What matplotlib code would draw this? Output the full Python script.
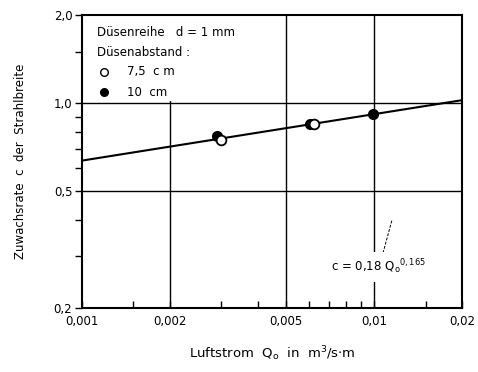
import matplotlib
matplotlib.use("Agg")
import matplotlib.pyplot as plt
from matplotlib.ticker import FixedLocator, NullFormatter
from matplotlib.patches import Rectangle

# Data
q_open = [0.00299, 0.00623]      # Düsenabstand 7,5 cm
c_open = [0.746, 0.847]
q_filled = [0.0029, 0.00604, 0.0099]   # Düsenabstand 10 cm
c_filled = [0.770, 0.847, 0.916]
fit_q = [0.001, 0.02]
fit_c = [0.637, 1.024]

x_major = [0.001, 0.002, 0.005, 0.01, 0.02]
x_major_labels = ["0,001", "0,002", "0,005", "0,01", "0,02"]
x_minor = [0.0015, 0.003, 0.004, 0.006, 0.007, 0.008, 0.009, 0.015]
y_major = [0.2, 0.5, 1.0, 2.0]
y_major_labels = ["0,2", "0,5", "1,0", "2,0"]
y_minor = [0.3, 0.4, 0.6, 0.7, 0.8, 0.9, 1.5]

plt.rcParams['font.family'] = ['DejaVu Sans']

fig = plt.figure(figsize=(4.78, 3.72), dpi=100)
ax = fig.add_axes([82/478, 64/372, 380/478, 293/372])
ax.set_xscale('log')
ax.set_yscale('log')
ax.set_xlim(0.001, 0.02)
ax.set_ylim(0.2, 2.0)

# grid lines
for xv in [0.002, 0.005, 0.01]:
    ax.axvline(xv, color='black', lw=1.0, zorder=1)
for yv in [0.5, 1.0]:
    ax.axhline(yv, color='black', lw=1.0, zorder=1)

# legend white area
ax.add_patch(Rectangle((0.0, 0.705), 0.44, 0.295, transform=ax.transAxes,
                       facecolor='white', edgecolor='none', zorder=2))

ax.plot(fit_q, fit_c, color='black', lw=1.5, zorder=3)
ax.plot(q_filled, c_filled, 'o', color='black', ms=7, zorder=4)
ax.plot(q_open, c_open, 'o', mfc='white', mec='black', mew=1.3, ms=7, zorder=5)

ax.xaxis.set_major_locator(FixedLocator(x_major))
ax.xaxis.set_minor_locator(FixedLocator(x_minor))
ax.set_xticklabels(x_major_labels)
ax.xaxis.set_minor_formatter(NullFormatter())
ax.yaxis.set_major_locator(FixedLocator(y_major))
ax.yaxis.set_minor_locator(FixedLocator(y_minor))
ax.set_yticklabels(y_major_labels)
ax.yaxis.set_minor_formatter(NullFormatter())

ax.tick_params(axis='x', which='both', direction='in', length=5, width=1, labelsize=8.5, pad=5)
ax.tick_params(axis='y', which='both', direction='out', length=5, width=1, labelsize=8.5, pad=2)
for s in ax.spines.values():
    s.set_linewidth(1.5)

ax.set_xlabel(r"Luftstrom  Q$_\mathregular{o}$  in  m$^\mathregular{3}$/s$\cdot$m", fontsize=9.5, labelpad=12)
ax.set_ylabel("Zuwachsrate  c  der  Strahlbreite", fontsize=8.5, labelpad=19)

# legend text
fs = 8.5
fig.text(97/478, 1 - 32/372, "Düsenreihe   d = 1 mm", fontsize=fs, va='center', ha='left')
fig.text(97/478, 1 - 52/372, "Düsenabstand :", fontsize=fs, va='center', ha='left')
ax.plot([104/478], [1 - 72/372], 'o', mfc='white', mec='black', mew=1.0, ms=5.5,
        transform=fig.transFigure, clip_on=False, zorder=6)
ax.plot([104/478], [1 - 92/372], 'o', color='black', ms=5.5,
        transform=fig.transFigure, clip_on=False, zorder=6)
fig.text(127/478, 1 - 72/372, "7,5  c m", fontsize=fs, va='center', ha='left')
fig.text(127/478, 1 - 92/372, "10  cm", fontsize=fs, va='center', ha='left')

# annotation
t = fig.text(331/478, 1 - 267/372, r"c = 0,18 Q$_\mathregular{o}$$^\mathregular{0,165}$", fontsize=8.5,
             va='center', ha='left',
             bbox=dict(facecolor='white', edgecolor='none', pad=4))
ax.plot([383/478, 392/478], [1 - 253/372, 1 - 220/372], color='black', lw=0.7, ls=(0, (3, 1.5)),
        transform=fig.transFigure, clip_on=False, zorder=6)

fig.savefig("out.png", dpi=100)
